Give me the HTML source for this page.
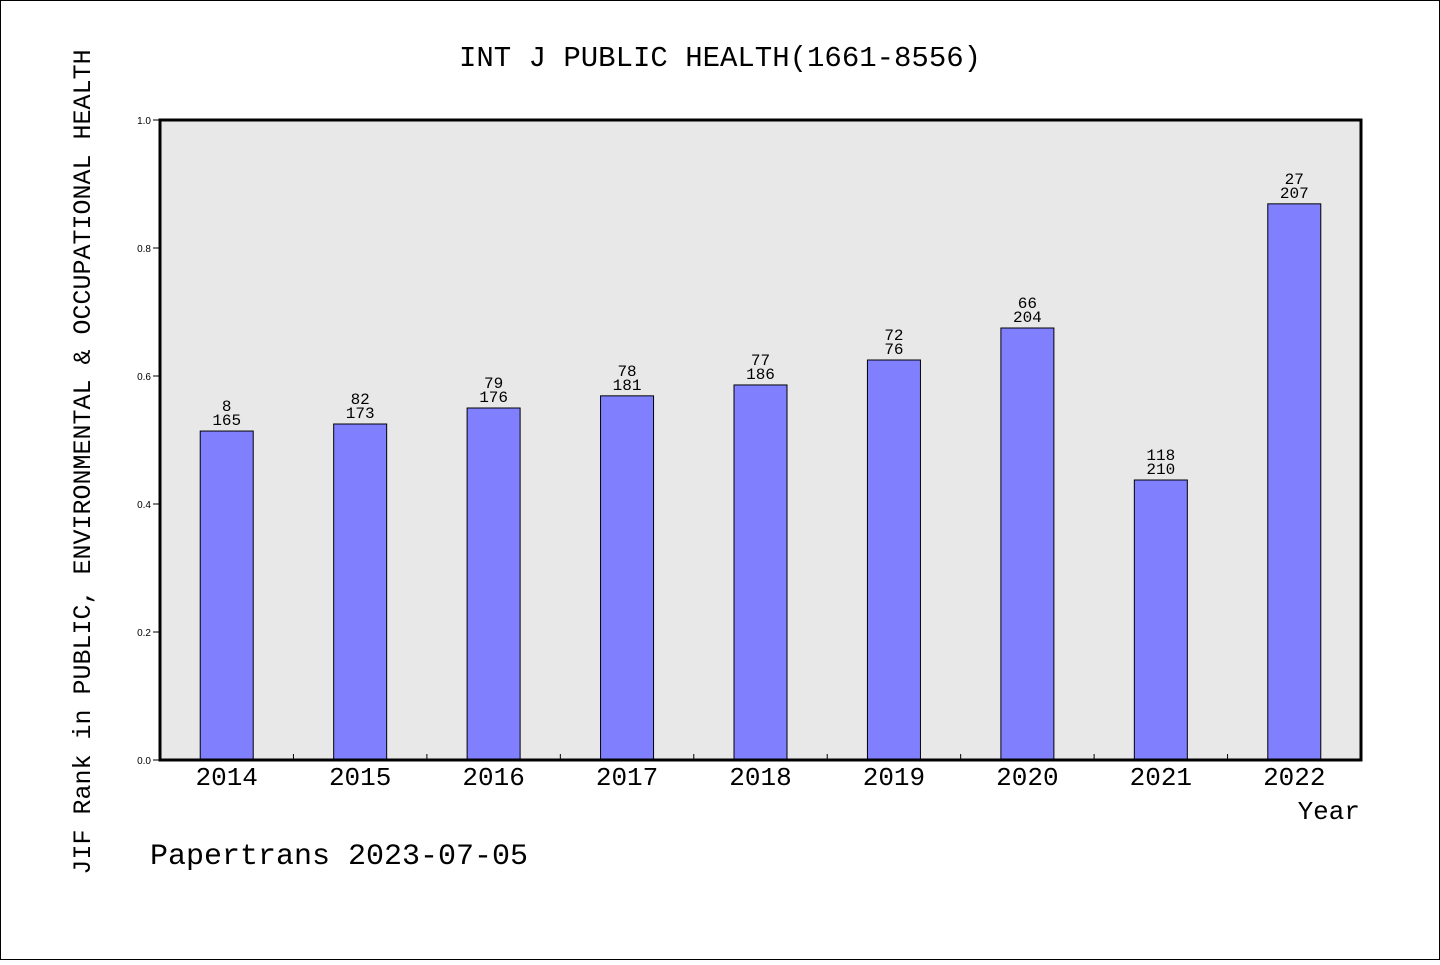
<!DOCTYPE html>
<html><head><meta charset="utf-8"><style>
html,body{margin:0;padding:0;background:#fff}
svg text{font-family:"Liberation Mono",sans-serif;fill:#000}
svg text.sans{font-family:"Liberation Sans",sans-serif}
</style></head><body>
<svg width="1440" height="960" viewBox="0 0 1440 960">
<rect x="0.5" y="0.5" width="1439" height="959" fill="#fff" stroke="#000"/>
<text x="720" y="66" font-size="29" text-anchor="middle">INT J PUBLIC HEALTH(1661-8556)</text>
<rect x="160" y="120" width="1201" height="640" fill="#e8e8e8"/>
<g id="bars"></g>
<rect x="160" y="120" width="1201" height="640" fill="none" stroke="#000" stroke-width="3"/>
<text transform="translate(90,462) rotate(-90)" font-size="25" text-anchor="middle">JIF Rank in PUBLIC, ENVIRONMENTAL &amp; OCCUPATIONAL HEALTH</text>
<text x="1360" y="819" font-size="26" text-anchor="end">Year</text>
<text x="150" y="864" font-size="30">Papertrans 2023-07-05</text>
</svg>
<script>
const years=["2014","2015","2016","2017","2018","2019","2020","2021","2022"];
const values=[0.514,0.525,0.55,0.569,0.586,0.625,0.675,0.4375,0.869];
const ranks=["8","82","79","78","77","72","66","118","27"];
const totals=["165","173","176","181","186","76","204","210","207"];
const yTicks=[0,0.2,0.4,0.6,0.8,1.0];
const NS="http://www.w3.org/2000/svg";
const X0=160,W=1201,Y0=760,H=640;
const step=W/years.length, bw=53;
const xc=i=>X0+step*(i+0.5);
const y=v=>Y0-v*H;
const g=document.getElementById('bars');
function mk(t,a){const e=document.createElementNS(NS,t);for(const k in a)e.setAttribute(k,a[k]);g.appendChild(e);return e;}
years.forEach((yr,i)=>{
  const r=mk('rect',{x:xc(i)-bw/2,y:y(values[i]),width:bw,height:Y0-y(values[i]),fill:'#8080ff',stroke:'#000','stroke-width':1});
  
  
  const t1=mk('text',{x:xc(i),y:y(values[i])-20,'font-size':16,'text-anchor':'middle'});t1.textContent=ranks[i];
  
  
  const t2=mk('text',{x:xc(i),y:y(values[i])-6,'font-size':16,'text-anchor':'middle'});t2.textContent=totals[i];
  
  
  const xl=mk('text',{x:xc(i),y:785,'font-size':26,'text-anchor':'middle'});xl.textContent=yr;
  
  
  if(i>0){const tk=mk('line',{x1:X0+step*i,x2:X0+step*i,y1:Y0,y2:Y0-6,stroke:'#000'});
  
  }
});
yTicks.forEach(v=>{
  const tk=mk('line',{x1:153,x2:160,y1:y(v),y2:y(v),stroke:'#000'});
  
  
  const tl=mk('text',{x:151,y:y(v)+4,'font-size':10,'text-anchor':'end','class':'sans'});tl.textContent=v.toFixed(1);
  
  
});
</script>
</body></html>
